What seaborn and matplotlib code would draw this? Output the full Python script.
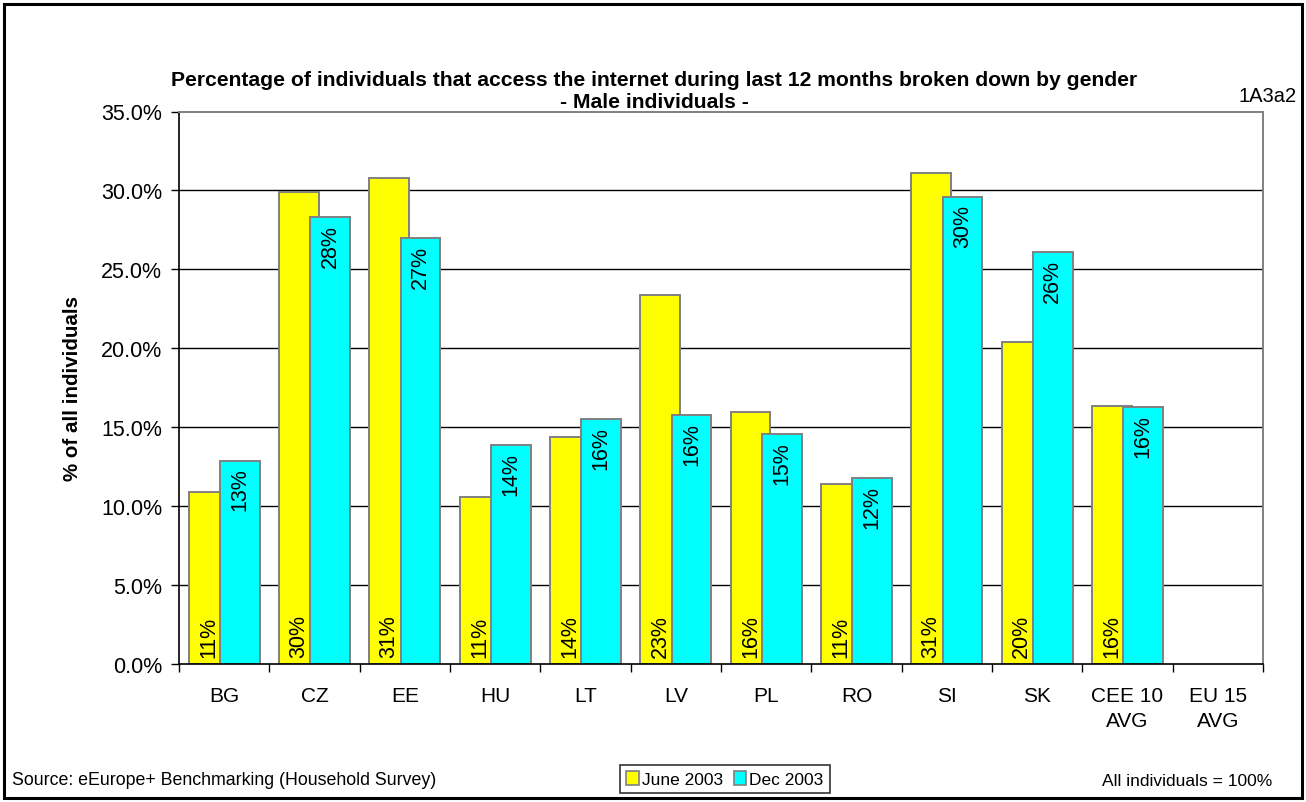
import numpy as np
import pandas as pd
import matplotlib
matplotlib.use("Agg")
import matplotlib.pyplot as plt
from matplotlib.ticker import PercentFormatter, FixedLocator
from matplotlib.patches import Rectangle, Patch
import seaborn as sns

# Share of male individuals using the internet in the last 12 months (%)
countries = ["BG", "CZ", "EE", "HU", "LT", "LV", "PL", "RO", "SI", "SK",
             "CEE 10\nAVG", "EU 15\nAVG"]
june_2003 = [10.9, 29.9, 30.8, 10.6, 14.4, 23.4, 16.0, 11.4, 31.1, 20.4, 16.35, np.nan]
dec_2003 = [12.9, 28.3, 27.0, 13.9, 15.5, 15.8, 14.55, 11.8, 29.6, 26.1, 16.3, np.nan]
periods = ["June 2003", "Dec 2003"]
colors = ["#FFFF00", "#00FFFF"]

df = pd.DataFrame({
    "country": countries * 2,
    "period": [periods[0]] * len(countries) + [periods[1]] * len(countries),
    "value": june_2003 + dec_2003,
}).dropna()

sns.set_theme(style="white")
plt.rcParams["font.family"] = ["Liberation Sans", "DejaVu Sans"]
plt.rcParams.update({"text.color": "black", "axes.labelcolor": "black",
                     "xtick.color": "black", "ytick.color": "black"})

fig = plt.figure(figsize=(13.06, 8.03), dpi=100)
ax = fig.add_axes([179 / 1306, 1 - 665.3 / 803, (1263 - 179) / 1306, (665.3 - 112.5) / 803])

sns.barplot(data=df, x="country", y="value", hue="period", order=countries,
            hue_order=periods, palette=colors, width=0.88, errorbar=None,
            edgecolor="#808080", linewidth=1.4, saturation=1, legend=False,
            ax=ax, zorder=3)

# overlap the two bars of each group slightly
shift = 0.047
for i, cont in enumerate(ax.containers):
    for bar in cont:
        bar.set_x(bar.get_x() + (shift if i == 0 else -shift))

# value labels: June at the base, Dec at the top of the bar
for i, cont in enumerate(ax.containers):
    for bar in cont:
        h = bar.get_height()
        if np.isnan(h):
            continue
        xc = bar.get_x() + bar.get_width() / 2
        if i == 0:
            ax.annotate(f"{h:.0f}%", (xc, 0), xytext=(0, 5.5),
                        textcoords="offset points", rotation=90,
                        ha="center", va="bottom", fontsize=15.5, zorder=5)
        else:
            ax.annotate(f"{h:.0f}%", (xc, h), xytext=(0, -5),
                        textcoords="offset points", rotation=90,
                        ha="center", va="top", fontsize=15.5, zorder=5)

ax.set_xlim(-0.5, len(countries) - 0.5)
ax.set_ylim(0, 35)
ax.yaxis.set_major_locator(FixedLocator(np.arange(0, 35.1, 5)))
ax.yaxis.set_major_formatter(PercentFormatter(xmax=100, decimals=1))
ax.xaxis.set_minor_locator(FixedLocator(np.arange(-0.5, len(countries), 1)))

for y in np.arange(5, 35, 5):
    ax.axhline(y, color="#000000", lw=1.0, zorder=1)

ax.tick_params(axis="x", which="major", length=0, pad=15.5, labelsize=15, colors="black")
ax.tick_params(axis="x", which="minor", length=6, width=1, direction="out", color="black", bottom=True)
ax.tick_params(axis="y", which="major", length=6, width=1, direction="out", color="black",
               left=True, labelsize=15.5, pad=6, labelcolor="black")
for lbl in ax.get_xticklabels():
    lbl.set_linespacing(1.4)
    lbl.set_verticalalignment("top")

ax.set_xlabel("")
ax.set_ylabel("% of all individuals", fontsize=14.8, fontweight="bold", labelpad=13.5)

for side in ["left", "bottom"]:
    ax.spines[side].set_color("black")
    ax.spines[side].set_linewidth(1.2)
for side in ["top", "right"]:
    ax.spines[side].set_visible(True)
    ax.spines[side].set_color("#808080")
    ax.spines[side].set_linewidth(1.4)
for s in ax.spines.values():
    s.set_zorder(4)

title_x = 0.5 * (168 + 1140) / 1306
fig.text(title_x, 1 - 80.5 / 803,
         "Percentage of individuals that access the internet during last 12 months broken down by gender",
         ha="center", va="center", fontsize=15.2, fontweight="bold")
fig.text(title_x, 1 - 102 / 803, "- Male individuals -",
         ha="center", va="center", fontsize=15.2, fontweight="bold")
fig.text(1297 / 1306, 1 - 97 / 803, "1A3a2", ha="right", va="center", fontsize=14.5)
fig.text(12 / 1306, 1 - 781 / 803, "Source: eEurope+ Benchmarking (Household Survey)",
         ha="left", va="center", fontsize=12.75)
fig.text(1272 / 1306, 1 - 782 / 803, "All individuals = 100%",
         ha="right", va="center", fontsize=12.5)

handles = [Patch(facecolor=c, edgecolor="#808080", linewidth=1.2, label=p)
           for c, p in zip(colors, periods)]
leg = fig.legend(handles=handles, loc="center", bbox_to_anchor=(725 / 1306, 1 - 780 / 803),
                 ncol=2, frameon=True, fancybox=False, fontsize=12.5,
                 handlelength=0.7, handleheight=0.9, handletextpad=0.2,
                 columnspacing=0.6, borderpad=0.35, borderaxespad=0)
leg.get_frame().set_edgecolor("black")
leg.get_frame().set_linewidth(1.2)

fig.patches.append(Rectangle((4 / 1306, 4 / 803), 1 - 8 / 1306, 1 - 9 / 803,
                             transform=fig.transFigure, fill=False,
                             edgecolor="black", linewidth=2.2, zorder=10))

fig.savefig("out.png", dpi=100)
